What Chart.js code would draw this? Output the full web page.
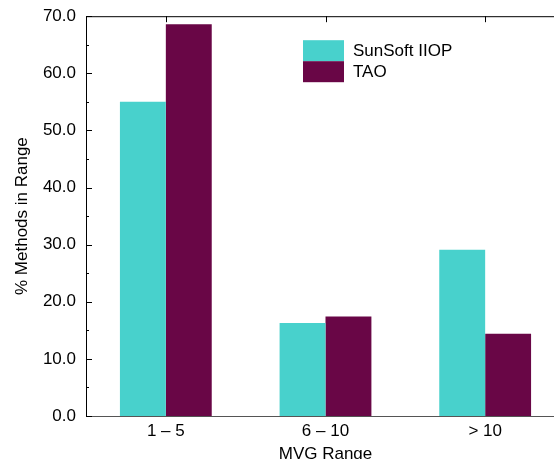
<!DOCTYPE html>
<html>
<head>
<meta charset="utf-8">
<script src="https://cdn.jsdelivr.net/npm/chart.js@4.4.1/dist/chart.umd.min.js"></script>
<style>
  html, body { margin: 0; padding: 0; background: #fff; overflow: hidden; }
  #wrap { width: 600px; height: 469px; margin-top: -4px; }
</style>
</head>
<body>
<div id="wrap"><canvas id="chart"></canvas></div>
<script>
const categories = ["1 \u2013 5", "6 \u2013 10", "> 10"];
const sunsoftValues = [55.0, 16.3, 29.1];
const taoValues = [68.6, 17.4, 14.4];
const seriesNames = ["SunSoft IIOP", "TAO"];

const FONT = "'Liberation Sans', Arial, sans-serif";
const TEAL = "#48D1CC";
const MAROON = "#690646";

// Inward ticks, top frame line and the boxed legend inside the plot.
const framePlugin = {
  id: "frame",
  afterDraw(chart) {
    const { ctx, chartArea: area, scales } = chart;
    ctx.save();
    ctx.strokeStyle = "#000";
    ctx.lineWidth = 1;

    ctx.beginPath();
    ctx.moveTo(area.left, area.top + 0.5);
    ctx.lineTo(area.right, area.top + 0.5);
    scales.x.ticks.forEach((t, i) => {
      const px = Math.round(scales.x.getPixelForValue(i)) + 0.5;
      ctx.moveTo(px, area.top);
      ctx.lineTo(px, area.top + 6);
    });
    scales.y.ticks.forEach((t) => {
      const py = Math.round(scales.y.getPixelForValue(t.value)) + 0.5;
      const len = t.value % 10 === 0 ? 6 : 3;
      ctx.moveTo(area.left, py);
      ctx.lineTo(area.left + len, py);
    });
    ctx.stroke();

    const lx = area.left + 217;
    const ly = area.top + 24;
    ctx.font = "17px " + FONT;
    ctx.textBaseline = "middle";
    chart.data.datasets.forEach((ds, i) => {
      ctx.fillStyle = ds.backgroundColor;
      ctx.fillRect(lx, ly + i * 21, 41, 21);
      ctx.fillStyle = "#000";
      ctx.fillText(ds.label, lx + 50, ly + i * 21 + 11);
    });
    ctx.restore();
  },
};

new Chart(document.getElementById("chart"), {
  type: "bar",
  data: {
    labels: categories,
    datasets: [
      { label: seriesNames[0], data: sunsoftValues, backgroundColor: TEAL },
      { label: seriesNames[1], data: taoValues, backgroundColor: MAROON },
    ],
  },
  options: {
    responsive: true,
    maintainAspectRatio: false,
    animation: false,
    layout: { padding: { top: 12, right: 35, left: 0, bottom: 0 } },
    datasets: { bar: { barPercentage: 1, categoryPercentage: 0.575 } },
    plugins: { legend: { display: false }, tooltip: { enabled: false } },
    scales: {
      x: {
        grid: { display: false, drawTicks: false },
        border: { display: true, color: "#555", width: 1 },
        ticks: { color: "#000", font: { family: FONT, size: 17 }, padding: 5 },
        title: {
          display: true,
          text: "MVG Range",
          color: "#000",
          font: { family: FONT, size: 17 },
          padding: { top: 0, bottom: 0 },
        },
        afterFit(s) { s.height = 49; },
      },
      y: {
        min: 0,
        max: 70,
        grid: { display: false, drawTicks: false },
        border: { display: true, color: "#000", width: 1 },
        ticks: {
          stepSize: 5,
          autoSkip: false,
          color: "#000",
          font: { family: FONT, size: 17 },
          padding: 10,
          callback: (v) => (v % 10 === 0 ? v.toFixed(1) : ""),
        },
        title: {
          display: true,
          text: "% Methods in Range",
          color: "#000",
          font: { family: FONT, size: 17 },
          padding: { top: 12, bottom: 0 },
        },
        afterFit(s) { s.width = 86; },
      },
    },
  },
  plugins: [framePlugin],
});
</script>
</body>
</html>
